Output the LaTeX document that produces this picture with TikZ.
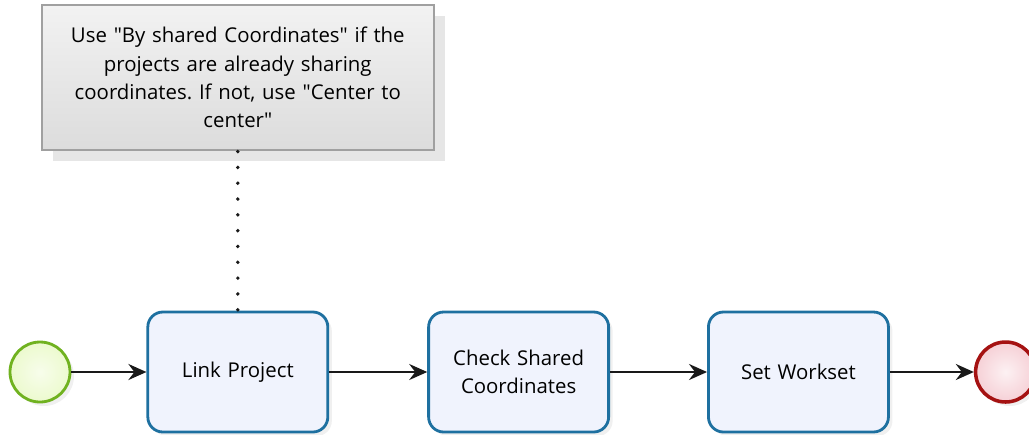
\documentclass[tikz,border=0pt]{standalone}
\usepackage{fontspec}
\setmainfont{Open Sans}
\usepackage{tikz}
\usetikzlibrary{arrows,arrows.meta,shapes,positioning,shadows}
\usepackage{xcolor}
\definecolor{bpblue}{RGB}{30,112,160}
\definecolor{bplightblue}{RGB}{240,243,253}
\definecolor{bpgreen}{RGB}{112,178,32}
\definecolor{bplightgreen}{RGB}{236,250,206}
\definecolor{bpred}{RGB}{165,18,18}
\definecolor{bppink}{RGB}{246,208,214}
\definecolor{notegray}{RGB}{160,160,160}
\definecolor{notefill}{RGB}{242,242,242}
\definecolor{notefill2}{RGB}{220,220,220}
\definecolor{flowblack}{RGB}{25,25,25}
\newcommand{\dq}{\textquotedbl}
\frenchspacing
\tikzstyle{arrow} = [line width=1.3pt,-{Stealth[length=3.6mm,width=3.2mm,inset=1.2mm]},color=flowblack]
\tikzstyle{tasknode} = [rectangle, rounded corners=0.3cm, minimum width=3.6cm, minimum height=2.4cm, text width=3.3cm, align=center, draw=bpblue, fill=bplightblue, line width=1.6pt, drop shadow={shadow xshift=0.08cm, shadow yshift=-0.08cm, opacity=0.12}]
\tikzstyle{startevent} = [circle, minimum size=1.2cm, draw=bpgreen, line width=1.6pt, inner color=bplightgreen!40, outer color=bplightgreen, drop shadow={shadow xshift=0.08cm, shadow yshift=-0.08cm, opacity=0.12}]
\tikzstyle{endevent} = [circle, minimum size=1.2cm, draw=bpred, line width=2pt, inner color=bppink!30, outer color=bppink, drop shadow={shadow xshift=0.08cm, shadow yshift=-0.08cm, opacity=0.12}]
\tikzstyle{notebox} = [rectangle, minimum width=7.84cm, minimum height=2.9cm, text width=7.6cm, align=center, draw=notegray, thick, top color=notefill, bottom color=notefill2, drop shadow={shadow xshift=0.22cm, shadow yshift=-0.22cm, opacity=0.2}]
\tikzstyle{assoc} = [line width=2.2pt, line cap=round, dash pattern=on 0pt off 9pt, color=flowblack]

\begin{document}
\begin{tikzpicture}[node distance=2cm, font=\fontsize{11.6}{16}\selectfont]
\useasboundingbox (0,0) rectangle (20.58,-8.68);

% Start event
\node[startevent] (start) at (0.8,-7.44) {};

% Tasks
\node[tasknode, right=1.5cm of start] (link) {Link Project};
\node[tasknode, right=1.96cm of link] (check) {Check Shared\\Coordinates};
\node[tasknode, right=1.94cm of check] (workset) {Set Workset};

% End event
\node[endevent, right=1.68cm of workset] (end) {};

% Annotation
\node[notebox, above=3.2cm of link] (note) {
Use \dq By shared Coordinates\dq{} if the\\
projects are already sharing\\
coordinates. If not, use \dq Center to\\
center\dq
};

\draw[assoc] (note.south) ++(0,-0.02) -- (link.north);

\draw[arrow] (start) -- (link);
\draw[arrow] (link) -- (check);
\draw[arrow] (check) -- (workset);
\draw[arrow] (workset) -- (end);
\end{tikzpicture}
\end{document}
